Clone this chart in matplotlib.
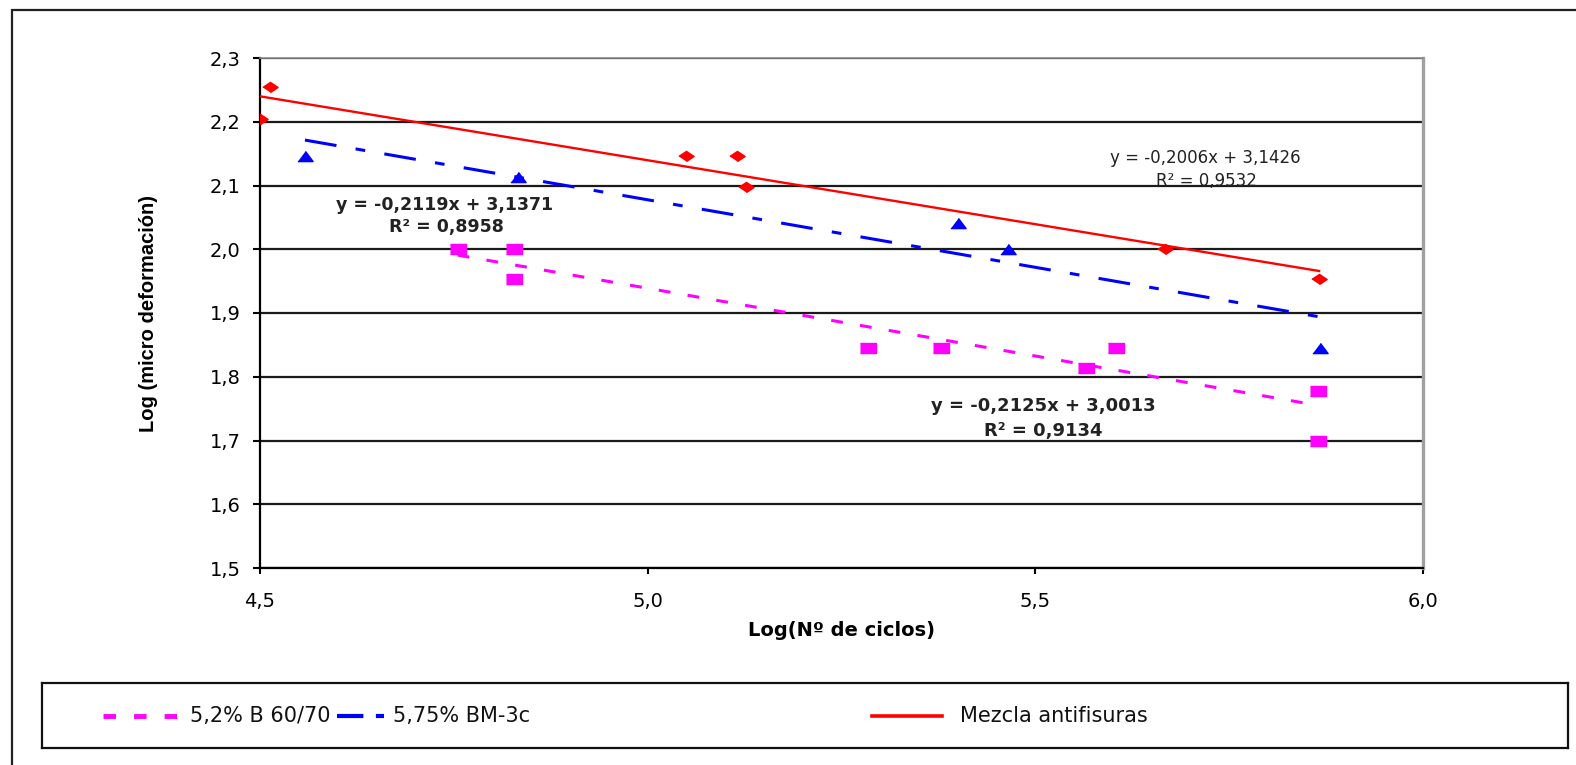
import matplotlib
matplotlib.use("Agg")
import matplotlib.pyplot as plt
from matplotlib.patches import Rectangle
from matplotlib import font_manager

# Log(cycles) vs Log(micro strain) for the three mixes
x_b6070 = [4.755, 4.828, 4.828, 5.284, 5.378, 5.565, 5.604, 5.865, 5.865]
y_b6070 = [2.000, 2.000, 1.954, 1.845, 1.845, 1.813, 1.845, 1.778, 1.699]

x_bm3c = [4.558, 4.833, 5.400, 5.465, 5.867]
y_bm3c = [2.146, 2.114, 2.041, 2.000, 1.845]

x_antif = [4.500, 4.513, 5.049, 5.115, 5.127, 5.667, 5.866]
y_antif = [2.204, 2.255, 2.146, 2.146, 2.097, 2.000, 1.954]

# linear trend lines (slope, intercept, R2)
fit_b6070 = (-0.2125, 3.0013, 0.9134)
fit_bm3c = (-0.2119, 3.1371, 0.8958)
fit_antif = (-0.2006, 3.1426, 0.9532)

labels = ["5,2% B 60/70", "5,75% BM-3c", "Mezcla antifisuras"]
yticks = [1.5, 1.6, 1.7, 1.8, 1.9, 2.0, 2.1, 2.2, 2.3]
xticks = [4.5, 5.0, 5.5, 6.0]

plt.rcParams["lines.scale_dashes"] = False

W, H = 1576, 765
fig = plt.figure(figsize=(W / 100, H / 100), dpi=100)

# outer chart border (only top and left inside the image)
fig.add_artist(Rectangle((12 / W, -0.1), 2.0, 1.1 - 10 / H, transform=fig.transFigure,
                         fill=False, edgecolor="#222222", lw=1.6, clip_on=False))

ax = fig.add_axes([260 / W, 1 - 568 / H, 1163 / W, 510 / H])
ax.set_xlim(4.5, 6.0)
ax.set_ylim(1.5, 2.3)
ax.set_yticks(yticks)
ax.set_xticks(xticks)
ax.set_yticklabels([f"{v:.1f}".replace(".", ",") for v in yticks])
ax.set_xticklabels([f"{v:.1f}".replace(".", ",") for v in xticks])
ax.tick_params(axis="y", direction="out", length=5, width=1.5, pad=9, labelsize=14, colors="black")
ax.tick_params(axis="x", direction="out", length=4, width=1.5, pad=13, labelsize=14)
ax.yaxis.grid(True, color="#1a1a1a", lw=1.6)
ax.set_axisbelow(True)
for s in ["left", "bottom"]:
    ax.spines[s].set_color("black")
    ax.spines[s].set_linewidth(1.6)
ax.spines["top"].set_color("#888888")
ax.spines["top"].set_linewidth(1.2)
ax.spines["right"].set_color("#a0a0a0")
ax.spines["right"].set_linewidth(2.4)

diamond = [(-0.75, 0), (0, 0.5), (0.75, 0), (0, -0.5)]
triangle = [(-0.75, -0.5), (0.75, -0.5), (0, 0.5)]
square = [(-0.8, -0.5), (0.8, -0.5), (0.8, 0.5), (-0.8, 0.5)]

dash_mag = (0, (8.5, 12.5))
dash_blue = (0, (23, 14, 7, 14))

series = [
    (x_b6070, y_b6070, fit_b6070, "#ff00ff", square, 11.5, dash_mag, 2.2),
    (x_bm3c, y_bm3c, fit_bm3c, "#0000ff", triangle, 11.0, dash_blue, 2.2),
    (x_antif, y_antif, fit_antif, "#ff0000", diamond, 11.0, "-", 1.7),
]
for xs, ys, (m, b, r2), col, mk, ms, ls, lw in series:
    ax.plot(xs, ys, ls="none", marker=mk, ms=ms, color=col, mec=col, zorder=3)
    x0, x1 = min(xs), max(xs)
    ax.plot([x0, x1], [m * x0 + b, m * x1 + b], color=col, lw=lw, ls=ls,
            dash_capstyle="butt", zorder=4)


def eq_text(fit):
    m, b, r2 = fit
    sign = "+" if b >= 0 else "-"
    line1 = f"y = {m:.4f}x {sign} {abs(b):.4f}".replace(".", ",")
    line2 = f"R² = {r2:.4f}".replace(".", ",")
    return line1, line2


l1, l2 = eq_text(fit_antif)
ax.text(5.719, 2.143, l1, ha="center", va="center", fontsize=12, color="#222222")
ax.text(5.721, 2.107, l2, ha="center", va="center", fontsize=12, color="#222222")
l1, l2 = eq_text(fit_bm3c)
ax.text(4.738, 2.069, l1, ha="center", va="center", fontsize=12.5, fontweight="bold", color="#222222")
ax.text(4.740, 2.035, l2, ha="center", va="center", fontsize=12.5, fontweight="bold", color="#222222")
l1, l2 = eq_text(fit_b6070)
ax.text(5.510, 1.754, l1, ha="center", va="center", fontsize=13, fontweight="bold", color="#222222")
ax.text(5.510, 1.715, l2, ha="center", va="center", fontsize=13, fontweight="bold", color="#222222")

ax.set_xlabel("Log(Nº de ciclos)", fontsize=14, fontweight="bold")
ax.xaxis.label.set_va("center")
ax.xaxis.set_label_coords(0.5004, -0.1216)

names = {f.name for f in font_manager.fontManager.ttflist}
if "Liberation Sans Narrow" in names:
    ylab_font = dict(family="Liberation Sans Narrow", size=16.5)
else:
    ylab_font = dict(family="Liberation Sans", size=14.5)
ax.set_ylabel("Log (micro deformación)", fontweight="bold", **ylab_font)
ax.yaxis.label.set_va("center")
ax.yaxis.set_label_coords(-0.0963, 0.5)

# legend box along the bottom
lax = fig.add_axes([42 / W, 1 - 748 / H, (1568 - 42) / W, 65 / H])
lax.set_xlim(42, 1568)
lax.set_ylim(0, 1)
lax.set_xticks([])
lax.set_yticks([])
for s in lax.spines.values():
    s.set_color("#111111")
    s.set_linewidth(1.6)
lax.plot([103, 178], [0.5, 0.5], color="#ff00ff", lw=3.5, ls=(0, (9, 13)), dash_capstyle="butt")
lax.plot([337, 384], [0.5, 0.5], color="#0000ff", lw=3.0, ls=(0, (19, 9, 6, 40)), dash_capstyle="butt")
lax.plot([872, 942], [0.5, 0.5], color="#ff0000", lw=2.6)
for xt, lab in zip([190, 393, 960], labels):
    lax.text(xt, 0.5, lab, ha="left", va="center", fontsize=15, color="#111111")

fig.savefig("out.png", dpi=100)
